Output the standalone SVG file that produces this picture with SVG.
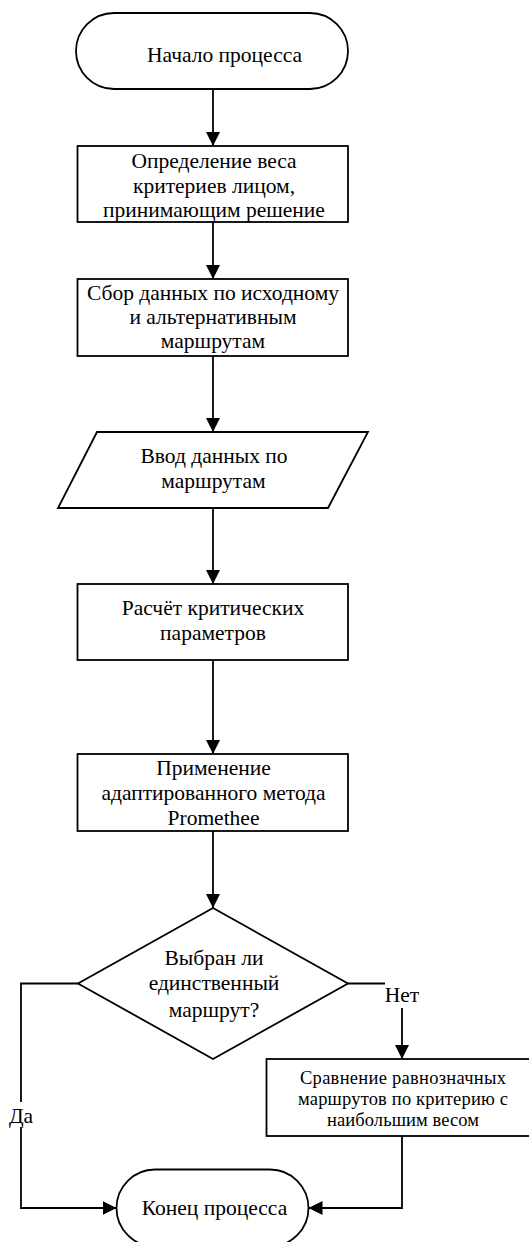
<svg xmlns="http://www.w3.org/2000/svg" width="529" height="1242" viewBox="0 0 529 1242">
<style>
.s{fill:#fff;stroke:#000;stroke-width:1.8}
.c{fill:none;stroke:#000;stroke-width:1.8}
.t{font-family:"Liberation Serif","Times New Roman",serif;font-size:21.5px;fill:#000;text-anchor:middle}
.ts{font-family:"Liberation Serif","Times New Roman",serif;font-size:18.5px;fill:#000;text-anchor:middle}
</style>
<defs>
<marker id="ah" markerUnits="userSpaceOnUse" markerWidth="14" markerHeight="14" refX="14" refY="7" orient="auto">
<path d="M0,0 L14,7 L0,14 Z" fill="#000"/>
</marker>
</defs>
<rect width="529" height="1242" fill="#fff"/>
<g id="connectors">
<path class="c" d="M213,89 V146" marker-end="url(#ah)"/>
<path class="c" d="M213,222 V279" marker-end="url(#ah)"/>
<path class="c" d="M213,356 V432" marker-end="url(#ah)"/>
<path class="c" d="M213,508 V584" marker-end="url(#ah)"/>
<path class="c" d="M213,660 V754" marker-end="url(#ah)"/>
<path class="c" d="M213,831 V908" marker-end="url(#ah)"/>
<path class="c" d="M78,983.5 H21 V1208 H116.5" marker-end="url(#ah)"/>
<path class="c" d="M348,983.5 H402 V1059" marker-end="url(#ah)"/>
<path class="c" d="M402,1136 V1208 H308.5" marker-end="url(#ah)"/>
<g id="label-da">
<rect x="7" y="1102" width="28" height="25" fill="#fff"/>
<text class="t" x="21" y="1123">Да</text>
</g>
<g id="label-net">
<rect x="385" y="981" width="36" height="27" fill="#fff"/>
<text class="t" x="402" y="1002">Нет</text>
</g>
</g>
<g id="start">
<rect class="s" x="76" y="13" width="272" height="76" rx="38" ry="38"/>
<text class="t" x="224.5" y="62">Начало процесса</text>
</g>
<g id="weights">
<rect class="s" x="77.5" y="146" width="270.5" height="76"/>
<text class="t" x="214" y="168">Определение веса</text>
<text class="t" x="214" y="192.5">критериев лицом,</text>
<text class="t" x="214" y="217">принимающим решение</text>
</g>
<g id="collect">
<rect class="s" x="77.5" y="279" width="270.5" height="77"/>
<text class="t" x="213" y="300">Сбор данных по исходному</text>
<text class="t" x="213" y="324">и альтернативным</text>
<text class="t" x="213" y="348">маршрутам</text>
</g>
<g id="input">
<polygon class="s" points="97,432 368,432 328,508 58,508"/>
<text class="t" x="214" y="463">Ввод данных по</text>
<text class="t" x="213.5" y="488">маршрутам</text>
</g>
<g id="calc">
<rect class="s" x="77.5" y="584" width="270.5" height="76"/>
<text class="t" x="213" y="615">Расчёт критических</text>
<text class="t" x="213" y="640">параметров</text>
</g>
<g id="promethee">
<rect class="s" x="77.5" y="754" width="270.5" height="77"/>
<text class="t" x="213.5" y="775">Применение</text>
<text class="t" x="213.5" y="800">адаптированного метода</text>
<text class="t" x="213.5" y="825">Promethee</text>
</g>
<g id="decision">
<polygon class="s" points="213,908 348,983.5 213,1059 78,983.5"/>
<text class="t" x="214" y="965">Выбран ли</text>
<text class="t" x="214" y="990">единственный</text>
<text class="t" x="214" y="1016.5">маршрут?</text>
</g>
<g id="compare">
<rect class="s" x="266.5" y="1059" width="273" height="77"/>
<text class="ts" x="403" y="1084" textLength="206" lengthAdjust="spacing">Сравнение равнозначных</text>
<text class="ts" x="403" y="1105" textLength="210" lengthAdjust="spacing">маршрутов по критерию с</text>
<text class="ts" x="403" y="1126" textLength="152" lengthAdjust="spacing">наибольшим весом</text>
</g>
<g id="end">
<rect class="s" x="116.5" y="1169.5" width="192" height="77" rx="38.5" ry="38.5"/>
<text class="t" x="214.5" y="1215">Конец процесса</text>
</g>
</svg>
